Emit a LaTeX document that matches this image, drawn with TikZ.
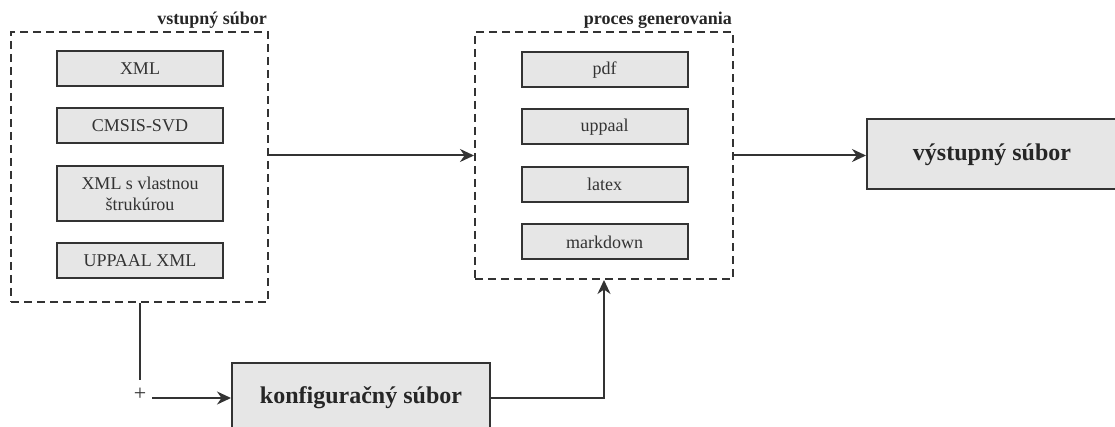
\documentclass[tikz,border=0pt]{standalone}
\usepackage{fontspec}
\setmainfont{Liberation Serif}
\usetikzlibrary{positioning,arrows.meta,calc}
\definecolor{boxgray}{HTML}{E6E6E6}
\definecolor{linegray}{HTML}{333333}
\tikzset{
    every node/.style={font=\fontsize{18}{21}\selectfont,text=linegray},
    group/.style={draw=linegray,line width=2pt,dash pattern=on 8pt off 5pt,inner sep=0pt},
    grouptitle/.style={font=\fontsize{18}{21}\selectfont\bfseries,text=black!85,inner sep=2pt,anchor=south east},
    item/.style={draw=linegray,fill=boxgray,line width=2pt,minimum width=166pt,minimum height=35pt,inner sep=2pt,align=center},
    bigitem/.style={draw=linegray,fill=boxgray,line width=2pt,minimum width=258pt,minimum height=70pt,font=\fontsize{24}{28}\selectfont\bfseries,text=black!85},
    flow/.style={draw=linegray,line width=2pt,-{Stealth[length=14pt,width=13pt]}},
    plain/.style={draw=linegray,line width=2pt}
}
\begin{document}
\begin{tikzpicture}[x=1pt,y=-1pt]
\useasboundingbox (0,0) rectangle (1115,427);
% vstupny subor
\node[group,minimum width=257pt,minimum height=270pt] (inbox) at (139.5,167) {};
\node[grouptitle] (intitle) at (inbox.north east) {vstupný súbor};
\node[item] (xml) at (140,69) {XML};
\node[item] (cmsis) at (140,126) {CMSIS-SVD};
\node[item,minimum height=55pt] (ownxml) at (140,193.5) {XML s vlastnou\\štrukúrou};
\node[item] (uppaalxml) at (140,261) {UPPAAL XML};
% proces generovania
\node[group,minimum width=258pt,minimum height=247pt] (genbox) at (604,155.5) {};
\node[grouptitle] (gentitle) at (genbox.north east) {proces generovania};
\node[item] (pdf) at (604.5,70) {pdf};
\node[item] (uppaal) at (604.5,127) {uppaal};
\node[item] (latex) at (604.5,184.5) {latex};
\node[item] (markdown) at (604.5,242) {markdown};
% vystup a konfiguracia
\node[bigitem,minimum width=250pt] (outfile) at (992,154.5) {výstupný súbor};
\node[bigitem] (config) at (361,398) {konfiguračný súbor};
\node[inner sep=2pt,font=\fontsize{22}{24}\selectfont] (plus) at (140,394) {+};
% spojenia
\draw[flow] (inbox.east |- genbox) -- (genbox.west);
\draw[flow] (genbox.east) -- (outfile.west |- genbox.east);
\draw[plain] (inbox.south -| plus) -- ($(plus.north)+(0,-6)$);
\draw[flow] ($(plus.east)+(4,4)$) -- (config.west |- 0,398);
\draw[flow] (config.east) -| (genbox.south);
\end{tikzpicture}
\end{document}
